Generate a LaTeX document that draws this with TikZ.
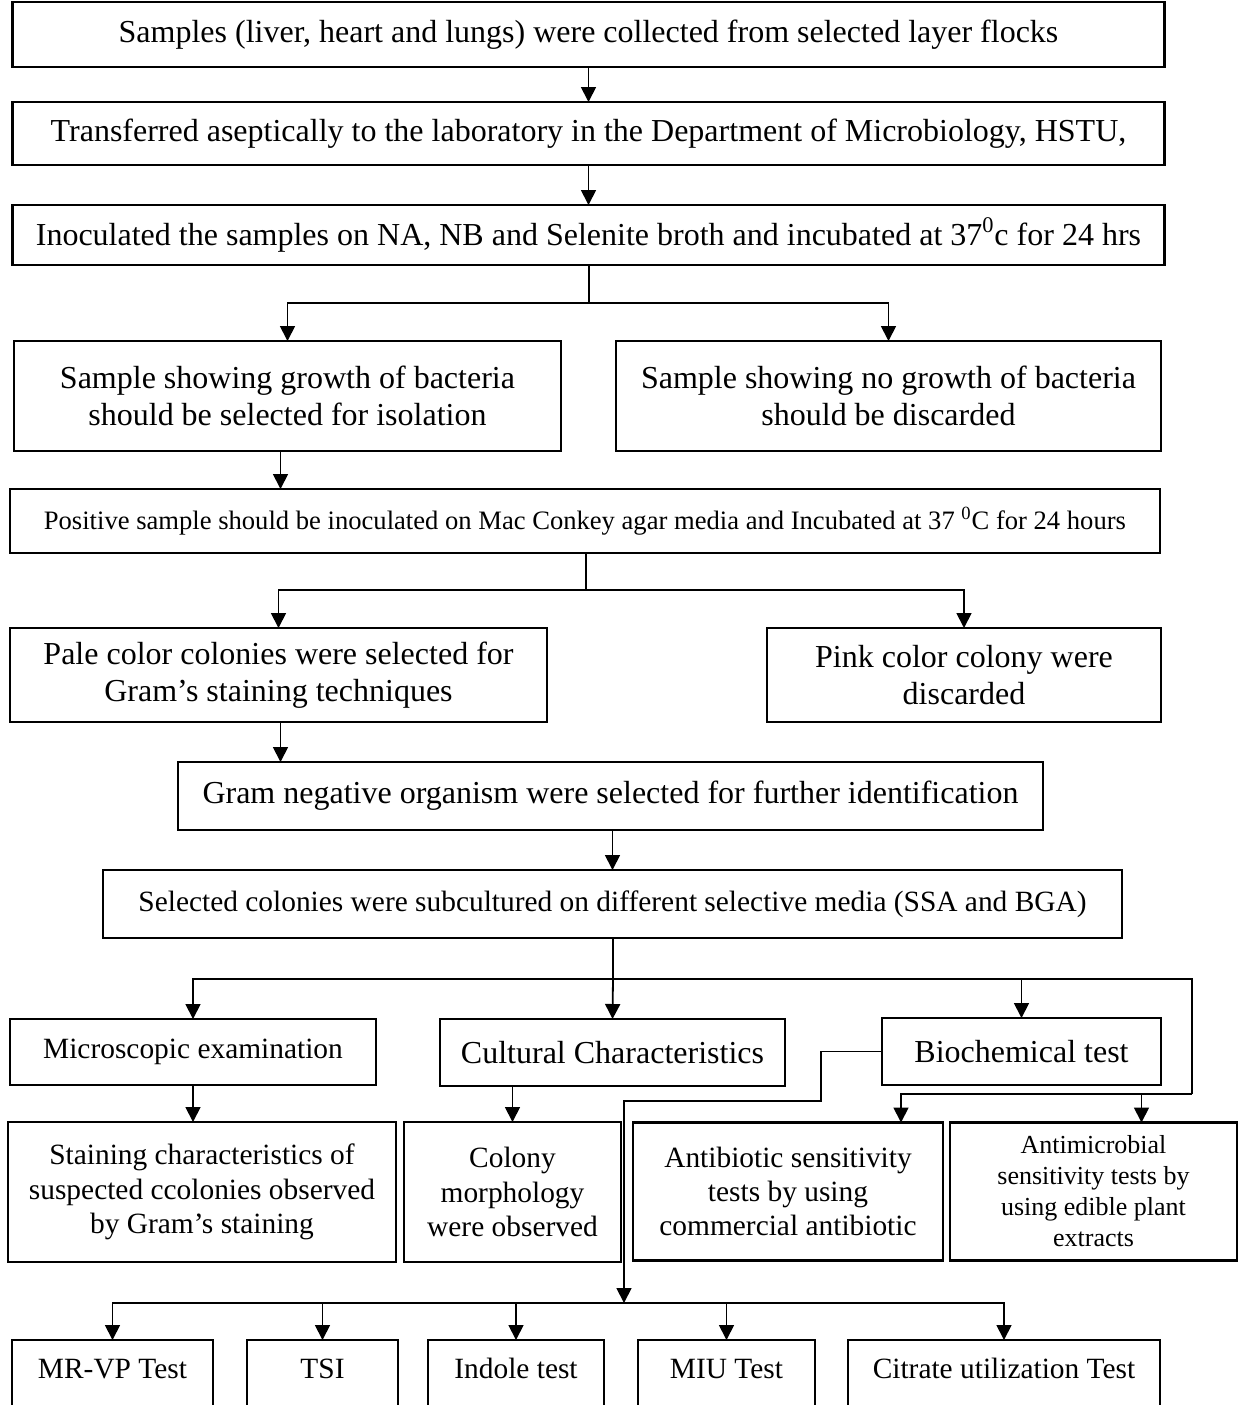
\documentclass[tikz,border=0pt]{standalone}
\usepackage{fontspec}
\setmainfont{Liberation Serif}
\usepackage{tikz}
\usetikzlibrary{positioning,arrows.meta}

\begin{document}
\begin{tikzpicture}[x=0.5pt,y=-0.5pt]
  \tikzset{BoxStyle/.style = {
    shape         = rectangle,
    draw          = black,
    fill          = white,
    line width    = 1.1pt,
    text          = black,
    align         = center,
    inner sep     = 1pt,
    outer sep     = 0pt,
    font          = \fontsize{16}{18.5}\selectfont
    }
  }
  \tikzset{SmallStyle/.style = {
    BoxStyle,
    font          = \fontsize{14.7}{17.2}\selectfont
    }
  }
  \tikzset{TestStyle/.style = {
    SmallStyle,
    minimum height = 35pt,
    text height   = 11pt,
    text depth    = 8pt
    }
  }
  \tikzset{LineStyle/.style = {
    draw          = black,
    line width    = 0.9pt
    }
  }
  \tikzset{ArrowStyle/.style = {
    LineStyle,
    -{Triangle[length=7.5pt,width=7.5pt]}
    }
  }
  \useasboundingbox (0,0) rectangle (1243,1405);

	\node[BoxStyle, minimum width=576pt, minimum height=32.5pt](S1) at (588.5, 34.5) {Samples (liver, heart and lungs) were collected from selected layer flocks};
	\node[BoxStyle, minimum width=576pt, minimum height=31.5pt](S2) at (588.5, 133.5) {Transferred aseptically to the laboratory in the Department of Microbiology, HSTU,};
	\node[BoxStyle, minimum width=576pt, minimum height=30pt](S3) at (588.5, 235) {Inoculated the samples on NA, NB and Selenite broth and incubated at 37\textsuperscript{0}c for 24 hrs};
	\node[BoxStyle, minimum width=273.5pt, minimum height=55pt](G1) at (287.5, 396) {Sample showing growth of bacteria\\should be selected for isolation};
	\node[BoxStyle, minimum width=272.5pt, minimum height=55pt](G2) at (888.5, 396) {Sample showing no growth of bacteria\\should be discarded};
	\node[BoxStyle, minimum width=575pt, minimum height=32pt, font=\fontsize{13.3}{16}\selectfont](M1) at (585, 521) {Positive sample should be inoculated on Mac Conkey agar media and Incubated at 37 \textsuperscript{0}C for 24 hours};
	\node[BoxStyle, minimum width=268.5pt, minimum height=47pt](P1) at (278.5, 675) {Pale color colonies were selected for\\Gram’s staining techniques};
	\node[BoxStyle, minimum width=197pt, minimum height=47pt](P2) at (964, 675) {Pink color colony were\\discarded};
	\node[BoxStyle, minimum width=432.5pt, minimum height=34pt](N1) at (610.5, 796) {Gram negative organism were selected for further identification};
	\node[BoxStyle, minimum width=509.5pt, minimum height=34pt, font=\fontsize{14.7}{17}\selectfont](C1) at (612.5, 904) {Selected colonies were subcultured on different selective media (SSA and BGA)};

	\node[SmallStyle, minimum width=183pt, minimum height=33pt](T1) at (193, 1052) {Microscopic examination};
	\node[BoxStyle, minimum width=172.5pt, minimum height=33.5pt](T2) at (612.5, 1052.5) {Cultural Characteristics};
	\node[BoxStyle, minimum width=139.5pt, minimum height=33.5pt](T3) at (1021.5, 1051.5) {Biochemical test};

	\node[SmallStyle, minimum width=194pt, minimum height=70pt](R1) at (202, 1192) {Staining characteristics of\\suspected ccolonies observed\\by Gram’s staining};
	\node[SmallStyle, minimum width=108.5pt, minimum height=70pt](R2) at (512.5, 1192) {Colony\\morphology\\were observed};
	\node[SmallStyle, minimum width=155pt, minimum height=69pt](R3) at (788, 1191.5) {Antibiotic sensitivity\\tests by using\\commercial antibiotic};
	\node[BoxStyle, minimum width=143.5pt, minimum height=69pt, font=\fontsize{13}{15.5}\selectfont](R4) at (1093.5, 1191.5) {Antimicrobial\\sensitivity tests by\\using edible plant\\extracts};

	\node[TestStyle, minimum width=100.5pt](B1) at (112.5, 1375) {MR-VP Test};
	\node[TestStyle, minimum width=75.5pt](B2) at (322.5, 1375) {TSI};
	\node[TestStyle, minimum width=88pt](B3) at (516, 1375) {Indole test};
	\node[TestStyle, minimum width=88.5pt](B4) at (726.5, 1375) {MIU Test};
	\node[TestStyle, minimum width=156pt](B5) at (1004, 1375) {Citrate utilization Test};

	% junctions
	\coordinate (J1) at (589, 303);
	\coordinate (J2) at (586, 590);
	\coordinate (J3) at (613, 979);
	\coordinate (J4) at (1192, 1094);
	\coordinate (J5) at (624, 1303);
	\coordinate (K1) at (821, 1101);

	\draw[ArrowStyle](S1) -- (S2);
	\draw[ArrowStyle](S2) -- (S3);
	\draw[LineStyle](S3.south -| J1) -- (J1);
	\draw[ArrowStyle](J1) -| (G1.north);
	\draw[ArrowStyle](J1) -| (G2.north);
	\draw[ArrowStyle]([xshift=-3.5pt]G1.south) -- ([xshift=-3.5pt]G1.south |- M1.north);
	\draw[LineStyle](M1.south -| J2) -- (J2);
	\draw[ArrowStyle](J2) -| (P1.north);
	\draw[ArrowStyle](J2) -| (P2.north);
	\draw[ArrowStyle]([xshift=1pt]P1.south) -- ([xshift=1pt]P1.south |- N1.north);
	\draw[ArrowStyle](N1.south -| C1) -- (C1.north);
	\draw[LineStyle](C1.south -| J3) -- (J3);
	\draw[ArrowStyle](J3) -| (T1.north);
	\draw[ArrowStyle](J3) -- (T2.north);
	\draw[ArrowStyle](J3) -| (T3.north);
	\draw[LineStyle](J3) -| (J4);
	\draw[ArrowStyle](J4) -| ([xshift=56.5pt]R3.north);
	\draw[ArrowStyle]([xshift=24pt]R4.north |- J4) -- ([xshift=24pt]R4.north);
	\draw[ArrowStyle](T1.south) -- (T1.south |- R1.north);
	\draw[ArrowStyle](R2.north |- T2.south) -- (R2.north);
	\draw[ArrowStyle](T3.west) -| (K1) -| (J5);
	\draw[ArrowStyle](J5) -| (B1.north);
	\draw[ArrowStyle](J5) -| (B2.north);
	\draw[ArrowStyle](J5) -| (B3.north);
	\draw[ArrowStyle](J5) -| (B4.north);
	\draw[ArrowStyle](J5) -| (B5.north);

  \end{tikzpicture}
\end{document}
